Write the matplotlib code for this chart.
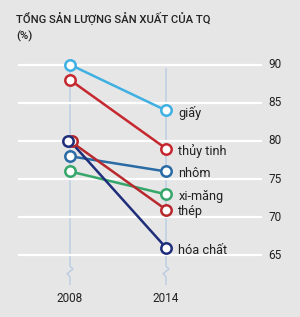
import matplotlib.pyplot as plt
from matplotlib import transforms

years = ["2008", "2014"]
series = ["giấy", "thủy tinh", "nhôm", "xi-măng", "thép", "hóa chất"]
v2008 = [90, 88, 78, 76, 80, 80]
v2014 = [84, 79, 76, 73, 71, 66]
colors = ["#3fb0e2", "#c5282e", "#2a6aa5", "#36a66a", "#b8292d", "#1f2e7a"]
yticks = [65, 70, 75, 80, 85, 90]
title = "TỔNG SẢN LƯỢNG SẢN XUẤT CỦA TQ"
unit = "(%)"

font = ["Roboto", "DejaVu Sans"]
bg = "#e6e6e6"
kw = dict(family=font, color="#222222")

fig = plt.figure(figsize=(3.0, 3.17), dpi=100, facecolor=bg)
ax = fig.add_axes([18 / 300, 0.0259, 244 / 300, 0.8183])
ax.set_facecolor(bg)
ax.set_xlim(-0.5417, 2.0)
ax.set_ylim(58, 92)
for s in ax.spines.values():
    s.set_visible(False)
ax.set_xticks([])
ax.set_yticks([])

# grid lines and right-hand labels
for t in yticks:
    ax.axhline(t, color="white", lw=1.6, zorder=1)
    ax.text(2.07, t, str(t), ha="left", va="center", fontsize=8.5,
            clip_on=False, **kw)

# vertical year lines with break mark
for i, yr in enumerate(years):
    ax.plot([i, i, i + 0.03, i - 0.03, i, i], [89.5, 63.6, 63.2, 62.6, 62.2, 61.2],
            color="#b9cce2", lw=1, zorder=0.5)
    ax.text(i, 59.4, yr, ha="center", va="center", fontsize=8.5, **kw)

shifts = [0, 0, 0, 0, 2, -2]
for name, a, b, c, dx in zip(series, v2008, v2014, colors, shifts):
    tr = transforms.offset_copy(ax.transData, fig=fig, x=dx, y=0, units="dots")
    ax.plot([0, 1], [a, b], color=c, lw=1.8, zorder=3)
    ax.plot([0], [a], marker="o", ms=7.5, mfc="white", mec=c, mew=1.8,
            transform=tr, zorder=4)
    ax.plot([1], [b], marker="o", ms=7.5, mfc="white", mec=c, mew=1.8, zorder=4)
    ax.text(1.13, b - 0.3, name, ha="left", va="center", fontsize=9.2, **kw)

fig.text(16 / 300, 1 - 18 / 317, title, ha="left", va="center", fontsize=8.1,
         weight="medium", **kw)
fig.text(16 / 300, 1 - 36 / 317, unit, ha="left", va="center", fontsize=8.1,
         weight="medium", **kw)

fig.savefig("out.png", dpi=100, facecolor=bg)
